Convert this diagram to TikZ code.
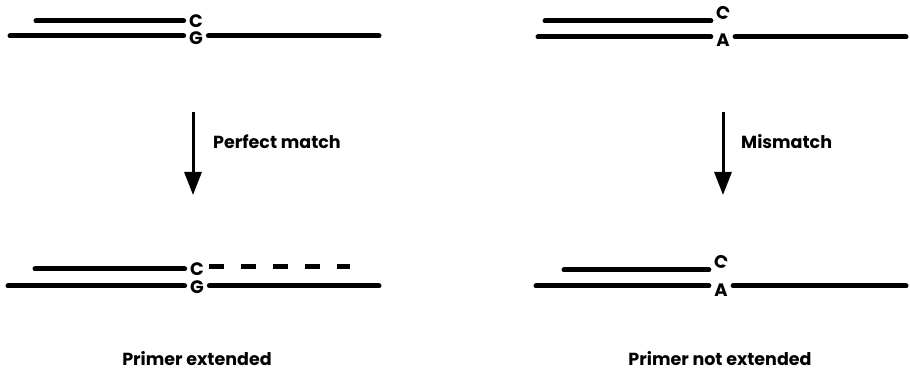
\documentclass[tikz,border=0pt]{standalone}
\usepackage{fontspec}
\setsansfont{Poppins}
\usetikzlibrary{arrows.meta}

\begin{document}
\begin{tikzpicture}[x=1pt,y=-1pt,
    strand/.style={line width=5pt,line cap=round},
    newstrand/.style={line width=5pt,dash pattern=on 15pt off 17pt},
    base/.style={font=\sffamily\bfseries\fontsize{18}{18}\selectfont,inner sep=0pt,outer sep=5.5pt},
    step arrow/.style={line width=3pt,-{Triangle[width=17pt,length=23pt]}},
    caption/.style={font=\sffamily\bfseries\fontsize{17.5}{17.5}\selectfont,inner sep=1pt}]

  \useasboundingbox (0,0) rectangle (910,371);

  % perfect match, before
  \node[base] (C1) at (196,21) {C};
  \node[base] (G1) at (196,38) {G};
  \coordinate (P1) at (36,21);
  \coordinate (T1) at (10,36);
  \coordinate (T1e) at (379,36);
  \draw[strand] (P1) -- (P1 -| C1.west);
  \draw[strand] (T1) -- (T1 -| G1.west);
  \draw[strand] (T1 -| G1.east) -- (T1e);

  % perfect match, after
  \node[base] (C2) at (197,269) {C};
  \node[base] (G2) at (197,287) {G};
  \coordinate (P2) at (35,269);
  \coordinate (E2) at (350,267);
  \coordinate (T2) at (8,286);
  \coordinate (T2e) at (379,286);
  \draw[strand] (P2) -- (P2 -| C2.west);
  \draw[newstrand] (E2 -| C2.east) -- (E2);
  \draw[strand] (T2) -- (T2 -| G2.west);
  \draw[strand] (T2 -| G2.east) -- (T2e);

  % mismatch, before
  \node[base,rotate=-20] (C3) at (723,13) {C};
  \node[base] (A1) at (723,40) {A};
  \coordinate (P3) at (545,21);
  \coordinate (T3) at (538,37);
  \coordinate (T3e) at (906,37);
  \draw[strand] (P3) -- (P3 -| A1.west);
  \draw[strand] (T3) -- (T3 -| A1.west);
  \draw[strand] (T3 -| A1.east) -- (T3e);

  % mismatch, after
  \node[base,rotate=-20] (C4) at (721,262) {C};
  \node[base] (A2) at (721,290) {A};
  \coordinate (P4) at (564,270);
  \coordinate (T4) at (536,286);
  \coordinate (T4e) at (906,286);
  \draw[strand] (P4) -- (P4 -| A2.west);
  \draw[strand] (T4) -- (T4 -| A2.west);
  \draw[strand] (T4 -| A2.east) -- (T4e);

  % reaction arrows
  \coordinate (L1) at (193,112);
  \coordinate (L2) at (193,195);
  \coordinate (R1) at (723,112);
  \coordinate (R2) at (723,195);
  \draw[step arrow] (L1) -- (L2);
  \draw[step arrow] (R1) -- (R2);
  \node[caption,anchor=west] (pm) at (212,142) {Perfect match};
  \node[caption,anchor=west] (mm) at (740,142) {Mismatch};

  \node[caption] (ext) at (197,359) {Primer extended};
  \node[caption] (noext) at (720,359) {Primer not extended};
\end{tikzpicture}
\end{document}
